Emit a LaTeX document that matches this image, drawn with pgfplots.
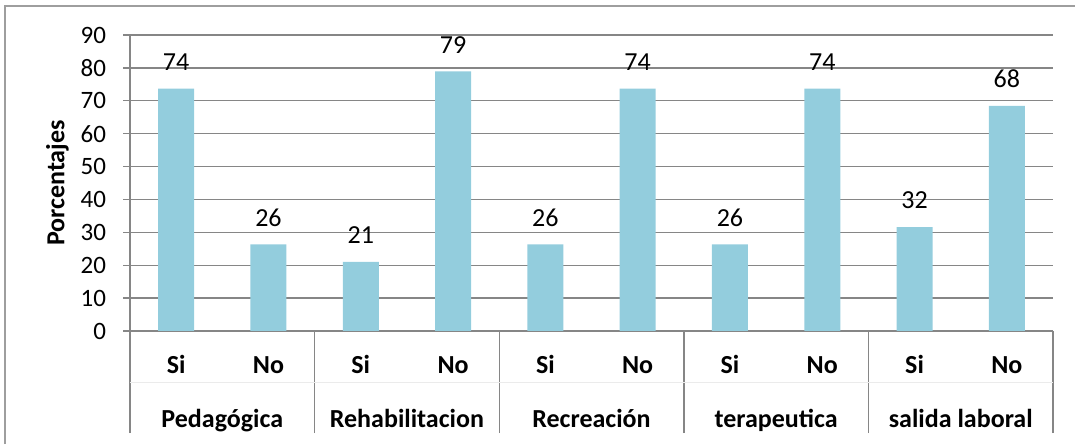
\documentclass[border=0pt]{standalone}
\usepackage{pgfplots}
\pgfplotsset{compat=1.18}
\usepackage{fontspec}
\setmainfont{Carlito}
\definecolor{barblue}{HTML}{93CDDD}
\definecolor{gridgray}{HTML}{868686}

\begin{document}
\begin{tikzpicture}[grouplab/.style={font=\fontsize{13}{15}\selectfont\bfseries, anchor=base, inner sep=0pt}]
\useasboundingbox (-65pt,-56.5pt) rectangle (472.5pt,165.5pt);
% marco exterior (solo borde izquierdo y superior visibles)
\draw[gridgray!80, line width=0.7pt] (-62.5pt,-56.5pt) -- (-62.5pt,162.5pt) -- (472.5pt,162.5pt);
\begin{axis}[
    at={(0,0)}, anchor=south west,
    scale only axis,
    width=461.5pt, height=148pt,
    ybar, bar width=18pt,
    xmin=-0.5, xmax=9.5,
    ymin=0, ymax=90,
    ytick={0,10,...,90},
    xtick={0,...,9},
    xticklabels={Si,No,Si,No,Si,No,Si,No,Si,No},
    axis x line*=bottom, axis y line*=left,
    axis line style={gridgray, line width=0.7pt},
    ymajorgrids, grid style={gridgray, line width=0.7pt},
    tick style={gridgray, line width=0.7pt},
    tick align=outside,
    major tick length=3.5pt,
    major x tick style={draw=none},
    extra x ticks={-0.5,1.5,3.5,5.5,7.5,9.5},
    extra x tick labels={},
    extra x tick style={major tick length=51pt, major x tick style={draw=gridgray, line width=0.7pt}, grid=none},
    /pgf/number format/assume math mode=true,
    yticklabel style={font=\fontsize{12.5}{14}\selectfont, xshift=-5pt},
    xticklabel style={font=\fontsize{13}{15}\selectfont\bfseries, anchor=base, yshift=-17.5pt},
    ylabel={Porcentajes},
    ylabel style={font=\fontsize{13}{15}\selectfont\bfseries, yshift=-1pt},
    nodes near coords,
    nodes near coords style={font=\fontsize{13}{15}\selectfont, color=black, yshift=5.5pt,
        /pgf/number format/.cd, fixed, precision=0},
    clip=false,
]
\addplot[fill=barblue, draw=none, bar shift=0pt] coordinates {
    (0,73.68) (1,26.32) (2,21.05) (3,78.95) (4,26.32)
    (5,73.68) (6,26.32) (7,73.68) (8,31.58) (9,68.42)
};
\draw[black!8, line width=0.5pt] ([yshift=-25.5pt]axis cs:-0.5,0) -- ([yshift=-25.5pt]axis cs:9.5,0);
\node[grouplab] at ([yshift=-48pt]axis cs:0.5,0) {Pedagógica};
\node[grouplab] at ([yshift=-48pt]axis cs:2.5,0) {Rehabilitacion};
\node[grouplab] at ([yshift=-48pt]axis cs:4.5,0) {Recreación};
\node[grouplab] at ([yshift=-48pt]axis cs:6.5,0) {terapeutica};
\node[grouplab] at ([yshift=-48pt]axis cs:8.5,0) {salida laboral};
\end{axis}
\end{tikzpicture}
\end{document}
